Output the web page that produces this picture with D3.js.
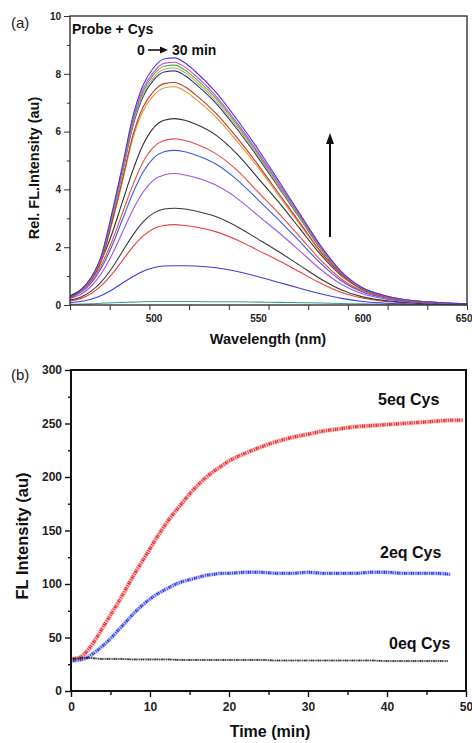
<!DOCTYPE html>
<html>
<head>
<meta charset="utf-8">
<script src="https://cdn.jsdelivr.net/npm/d3@7"></script>
<style>
  body { margin: 0; background: #fff; }
  svg { display: block; font-family: "Liberation Sans", Arial, sans-serif; }
  .tick text { font-weight: bold; fill: #222; }
</style>
</head>
<body>
<svg id="chart" width="472" height="743"></svg>
<script>
// ---- panel (a): emission spectra, 0 -> 30 min ----
const wavelengths = [460, 465, 470, 475, 480, 485, 490, 495, 500, 505, 510, 515, 520, 530, 540, 550, 560, 570, 580, 590, 600, 610, 620, 630, 640, 650];
const specTeal    = [0.02, 0.03, 0.04, 0.06, 0.08, 0.09, 0.10, 0.11, 0.12, 0.12, 0.12, 0.12, 0.12, 0.11, 0.11, 0.10, 0.09, 0.08, 0.07, 0.05, 0.04, 0.03, 0.03, 0.02, 0.02, 0.02];
const specBlue1   = [0.08, 0.12, 0.20, 0.33, 0.52, 0.75, 0.98, 1.17, 1.29, 1.35, 1.36, 1.36, 1.35, 1.29, 1.16, 0.98, 0.78, 0.58, 0.39, 0.23, 0.12, 0.07, 0.04, 0.02, 0.02, 0.01];
const specRed1    = [0.14, 0.22, 0.39, 0.67, 1.06, 1.53, 2.00, 2.39, 2.64, 2.75, 2.78, 2.75, 2.70, 2.53, 2.25, 1.89, 1.53, 1.14, 0.75, 0.43, 0.24, 0.13, 0.08, 0.04, 0.03, 0.02];
const specBlack1  = [0.17, 0.27, 0.47, 0.80, 1.27, 1.84, 2.41, 2.88, 3.18, 3.32, 3.35, 3.32, 3.25, 3.05, 2.71, 2.28, 1.84, 1.37, 0.90, 0.52, 0.28, 0.16, 0.09, 0.05, 0.03, 0.03];
const specViolet  = [0.23, 0.36, 0.64, 1.09, 1.73, 2.50, 3.28, 3.91, 4.32, 4.50, 4.55, 4.50, 4.41, 4.14, 3.69, 3.09, 2.50, 1.87, 1.23, 0.71, 0.39, 0.22, 0.12, 0.07, 0.05, 0.04];
const specBlue2   = [0.27, 0.43, 0.75, 1.28, 2.03, 2.94, 3.85, 4.60, 5.08, 5.30, 5.35, 5.30, 5.19, 4.87, 4.33, 3.64, 2.94, 2.19, 1.44, 0.83, 0.45, 0.26, 0.14, 0.09, 0.05, 0.04];
const specRed2    = [0.29, 0.46, 0.81, 1.38, 2.19, 3.16, 4.14, 4.95, 5.46, 5.69, 5.75, 5.69, 5.58, 5.23, 4.66, 3.91, 3.16, 2.36, 1.55, 0.89, 0.49, 0.28, 0.16, 0.09, 0.06, 0.05];
const specBlack2  = [0.32, 0.52, 0.90, 1.55, 2.45, 3.55, 4.64, 5.55, 6.13, 6.39, 6.45, 6.39, 6.26, 5.87, 5.22, 4.39, 3.55, 2.64, 1.74, 1.00, 0.55, 0.31, 0.17, 0.10, 0.06, 0.05];
const specOrange  = [0.23, 0.45, 0.83, 1.51, 2.79, 4.23, 5.74, 6.72, 7.25, 7.51, 7.55, 7.40, 7.13, 6.49, 5.66, 4.76, 3.78, 2.79, 1.81, 1.02, 0.53, 0.30, 0.17, 0.10, 0.06, 0.05];
const specBrown   = [0.23, 0.46, 0.85, 1.54, 2.85, 4.31, 5.85, 6.85, 7.39, 7.66, 7.70, 7.55, 7.28, 6.62, 5.78, 4.85, 3.85, 2.85, 1.85, 1.04, 0.54, 0.31, 0.17, 0.10, 0.06, 0.05];
const specNavy    = [0.24, 0.49, 0.89, 1.62, 3.00, 4.54, 6.16, 7.21, 7.78, 8.06, 8.10, 7.94, 7.65, 6.97, 6.08, 5.10, 4.05, 3.00, 1.94, 1.09, 0.57, 0.32, 0.18, 0.11, 0.06, 0.05];
const specOlive   = [0.25, 0.49, 0.90, 1.64, 3.03, 4.59, 6.23, 7.30, 7.87, 8.16, 8.20, 8.04, 7.75, 7.05, 6.15, 5.17, 4.10, 3.03, 1.97, 1.11, 0.57, 0.33, 0.18, 0.11, 0.07, 0.05];
const specGreen   = [0.25, 0.50, 0.91, 1.66, 3.07, 4.65, 6.31, 7.39, 7.97, 8.26, 8.30, 8.13, 7.84, 7.14, 6.23, 5.23, 4.15, 3.07, 1.99, 1.12, 0.58, 0.33, 0.18, 0.11, 0.07, 0.05];
const specMagenta = [0.25, 0.50, 0.92, 1.68, 3.11, 4.70, 6.38, 7.48, 8.06, 8.36, 8.40, 8.23, 7.94, 7.22, 6.30, 5.29, 4.20, 3.11, 2.02, 1.13, 0.59, 0.34, 0.18, 0.11, 0.07, 0.05];
const specTop     = [0.26, 0.51, 0.94, 1.71, 3.16, 4.79, 6.50, 7.61, 8.21, 8.51, 8.55, 8.38, 8.08, 7.35, 6.41, 5.39, 4.28, 3.16, 2.05, 1.15, 0.60, 0.34, 0.19, 0.11, 0.07, 0.05];

const spectra = [specTeal, specBlue1, specRed1, specBlack1, specViolet, specBlue2, specRed2, specBlack2,
                 specOrange, specBrown, specNavy, specOlive, specGreen, specMagenta, specTop];
const spectraColors = ['#3a9e8c', '#3c3ce6', '#e8403c', '#3a3a3a', '#a452e6', '#3c5ae6', '#e84a40', '#303030',
                       '#f0902c', '#b0402c', '#34349a', '#b4b040', '#4cb04c', '#e040e8', '#4a3ad8'];
const wlTickLabels = [500, 550, 600, 650];
const relTicks = [0, 2, 4, 6, 8, 10];

// ---- panel (b): kinetics at 5eq / 2eq / 0eq Cys ----
const timeRed = [0, 1, 2, 3, 4, 5, 6, 7, 8, 9, 10, 11, 12, 13, 14, 15, 16, 17, 18, 19, 20, 22, 24, 26, 28, 30, 32, 34, 36, 38, 40, 42, 44, 46, 48, 49.6];
const cys5eq  = [30, 31, 37, 47, 59, 71, 83, 96, 109, 121, 133, 145, 156, 166, 175, 184, 192, 199, 205, 210, 215, 222, 228, 233, 237, 240, 243, 245, 247, 248, 249, 250, 251, 252, 253, 253];
const timeBlue = [0, 1, 2, 3, 4, 5, 6, 7, 8, 9, 10, 11, 12, 13, 14, 15, 16, 17, 18, 19, 20, 22, 24, 26, 28, 30, 32, 34, 36, 38, 40, 42, 44, 46, 48];
const cys2eq   = [28, 29, 31, 36, 42, 49, 57, 65, 73, 80, 86, 91, 95, 99, 102, 104, 106, 108, 109, 110, 110, 111, 111, 110, 110, 111, 110, 110, 110, 111, 111, 110, 110, 110, 109];
const timeBlack = [0, 2, 4, 6, 8, 10, 12, 14, 16, 18, 20, 22, 24, 26, 28, 30, 32, 34, 36, 38, 40, 42, 44, 46, 47.7];
const cys0eq    = [30, 31, 30, 30, 29.5, 29.5, 29.5, 29, 29, 29, 29, 29, 29, 28.5, 28.5, 28.5, 28.5, 28.5, 28.5, 28.5, 28, 28, 28, 28, 28];
const timeTicks = [0, 10, 20, 30, 40, 50];
const flTicks = [0, 50, 100, 150, 200, 250, 300];

const svg = d3.select('#chart');

// ================= panel (a) =================
const a = { left: 70, right: 467, top: 16, bottom: 305 };
const xA = d3.scaleLinear().domain([460, 650]).range([a.left, a.right]);
const yA = d3.scaleLinear().domain([0, 10]).range([a.bottom, a.top]);
const gA = svg.append('g');

// y axis with minor ticks
gA.append('g')
    .attr('transform', `translate(${a.left},0)`)
    .call(d3.axisLeft(yA).tickValues(d3.range(1, 10, 2)).tickSize(3).tickFormat(''))
    .call(g => g.select('.domain').remove());
gA.append('g')
    .attr('transform', `translate(${a.left},0)`)
    .call(d3.axisLeft(yA).tickValues(relTicks).tickSize(6).tickPadding(3))
    .call(g => g.select('.domain').remove())
    .call(g => g.selectAll('text').style('font-size', '10px'));

// x axis: tick marks every tenth of range, labels at 500..650
gA.append('g')
    .attr('transform', `translate(0,${a.bottom})`)
    .call(d3.axisBottom(xA).tickValues(d3.range(0, 11).map(i => 460 + i * 19)).tickSize(5).tickFormat(''))
    .call(g => g.select('.domain').remove());
gA.append('g')
    .attr('transform', `translate(0,${a.bottom})`)
    .call(d3.axisBottom(xA).tickValues(wlTickLabels).tickSize(0).tickPadding(10))
    .call(g => g.select('.domain').remove())
    .call(g => g.selectAll('text').style('font-size', '10px'))
    // last label sits on the page edge; keep it inside
    .call(g => g.selectAll('text').filter(d => d === 650).attr('text-anchor', 'end').attr('x', 5));
gA.selectAll('.tick line').attr('stroke', '#333');

const lineA = d3.line()
    .x((d, i) => xA(wavelengths[i]))
    .y(d => yA(d))
    .curve(d3.curveMonotoneX);
gA.selectAll('path.spec')
    .data(spectra)
    .enter()
    .append('path')
    .attr('class', 'spec')
    .attr('d', lineA)
    .attr('fill', 'none')
    .attr('stroke', (d, i) => spectraColors[i])
    .attr('stroke-width', 1.1);

// frame
gA.append('rect')
    .attr('x', a.left).attr('y', a.top)
    .attr('width', a.right - a.left).attr('height', a.bottom - a.top)
    .attr('fill', 'none').attr('stroke', '#333').attr('stroke-width', 1.4);

// arrow
gA.append('line')
    .attr('x1', 330).attr('x2', 330).attr('y1', 237).attr('y2', 142)
    .attr('stroke', '#111').attr('stroke-width', 2);
gA.append('path')
    .attr('d', 'M326,144 L330,133 L334,144 Z')
    .attr('fill', '#111');

gA.append('text').attr('x', 11).attr('y', 28).text('(a)')
    .style('font-size', '15px').attr('fill', '#222');
gA.append('text').attr('x', 72).attr('y', 34).text('Probe + Cys')
    .style('font-size', '14px').style('font-weight', 'bold').attr('fill', '#111');
gA.append('text').attr('x', 137).attr('y', 55).text('0')
    .style('font-size', '14px').style('font-weight', 'bold').attr('fill', '#111');
gA.append('line')
    .attr('x1', 148).attr('x2', 162).attr('y1', 50).attr('y2', 50)
    .attr('stroke', '#111').attr('stroke-width', 1.6);
gA.append('path').attr('d', 'M160,46.5 L168,50 L160,53.5 Z').attr('fill', '#111');
gA.append('text').attr('x', 172).attr('y', 55).text('30 min')
    .style('font-size', '14px').style('font-weight', 'bold').attr('fill', '#111');

gA.append('text')
    .attr('x', 268).attr('y', 344)
    .attr('text-anchor', 'middle')
    .text('Wavelength (nm)')
    .style('font-size', '14.5px').style('font-weight', 'bold').attr('fill', '#111');
gA.append('text')
    .attr('transform', 'translate(39,168) rotate(-90)')
    .attr('text-anchor', 'middle')
    .text('Rel. FL.Intensity (au)')
    .style('font-size', '14.5px').style('font-weight', 'bold').attr('fill', '#111');

// ================= panel (b) =================
const b = { left: 71, right: 466, top: 370, bottom: 691 };
const xB = d3.scaleLinear().domain([0, 50]).range([b.left, b.right]);
const yB = d3.scaleLinear().domain([0, 300]).range([b.bottom, b.top]);
const gB = svg.append('g');

gB.append('g')
    .attr('transform', `translate(${b.left},0)`)
    .call(d3.axisLeft(yB).tickValues(d3.range(25, 300, 50)).tickSize(3).tickFormat(''))
    .call(g => g.select('.domain').remove());
gB.append('g')
    .attr('transform', `translate(${b.left},0)`)
    .call(d3.axisLeft(yB).tickValues(flTicks).tickSize(6).tickPadding(3))
    .call(g => g.select('.domain').remove())
    .call(g => g.selectAll('text').style('font-size', '12px'));
gB.append('g')
    .attr('transform', `translate(0,${b.bottom})`)
    .call(d3.axisBottom(xB).tickValues(d3.range(5, 50, 10)).tickSize(4).tickFormat(''))
    .call(g => g.select('.domain').remove());
gB.append('g')
    .attr('transform', `translate(0,${b.bottom})`)
    .call(d3.axisBottom(xB).tickValues(timeTicks).tickSize(6).tickPadding(5))
    .call(g => g.select('.domain').remove())
    .call(g => g.selectAll('text').style('font-size', '12px'));
gB.selectAll('.tick line').attr('stroke', '#111').attr('stroke-width', 1.4);

// scatter-like traces: a faint band under a speckled dashed stroke
const kinetics = [
    { t: timeRed, v: cys5eq, color: '#e82424', width: 4.5 },
    { t: timeBlue, v: cys2eq, color: '#2434e0', width: 4 },
    { t: timeBlack, v: cys0eq, color: '#1a1a1a', width: 2.2 }
];
kinetics.forEach(s => {
    const line = d3.line()
        .x((d, i) => xB(s.t[i]))
        .y(d => yB(d))
        .curve(d3.curveMonotoneX);
    gB.append('path')
        .attr('d', line(s.v))
        .attr('fill', 'none')
        .attr('stroke', s.color)
        .attr('stroke-opacity', 0.3)
        .attr('stroke-width', s.width);
    gB.append('path')
        .attr('d', line(s.v))
        .attr('fill', 'none')
        .attr('stroke', s.color)
        .attr('stroke-width', s.width * 0.7)
        .attr('stroke-dasharray', '0.8 1.2 1.5 0.7 1 1.6');
});

gB.append('rect')
    .attr('x', b.left).attr('y', b.top)
    .attr('width', b.right - b.left).attr('height', b.bottom - b.top)
    .attr('fill', 'none').attr('stroke', '#111').attr('stroke-width', 2);

gB.append('text').attr('x', 11).attr('y', 380).text('(b)')
    .style('font-size', '15px').attr('fill', '#222');
gB.append('text').attr('x', 378).attr('y', 405).text('5eq Cys')
    .style('font-size', '16px').style('font-weight', 'bold').attr('fill', '#111');
gB.append('text').attr('x', 380).attr('y', 558).text('2eq Cys')
    .style('font-size', '16px').style('font-weight', 'bold').attr('fill', '#111');
gB.append('text').attr('x', 389).attr('y', 649).text('0eq Cys')
    .style('font-size', '16px').style('font-weight', 'bold').attr('fill', '#111');

gB.append('text')
    .attr('x', 270).attr('y', 737)
    .attr('text-anchor', 'middle')
    .text('Time (min)')
    .style('font-size', '16px').style('font-weight', 'bold').attr('fill', '#111');
gB.append('text')
    .attr('transform', 'translate(28,536) rotate(-90)')
    .attr('text-anchor', 'middle')
    .text('FL Intensity (au)')
    .style('font-size', '16.5px').style('font-weight', 'bold').attr('fill', '#111');
</script>
</body>
</html>
